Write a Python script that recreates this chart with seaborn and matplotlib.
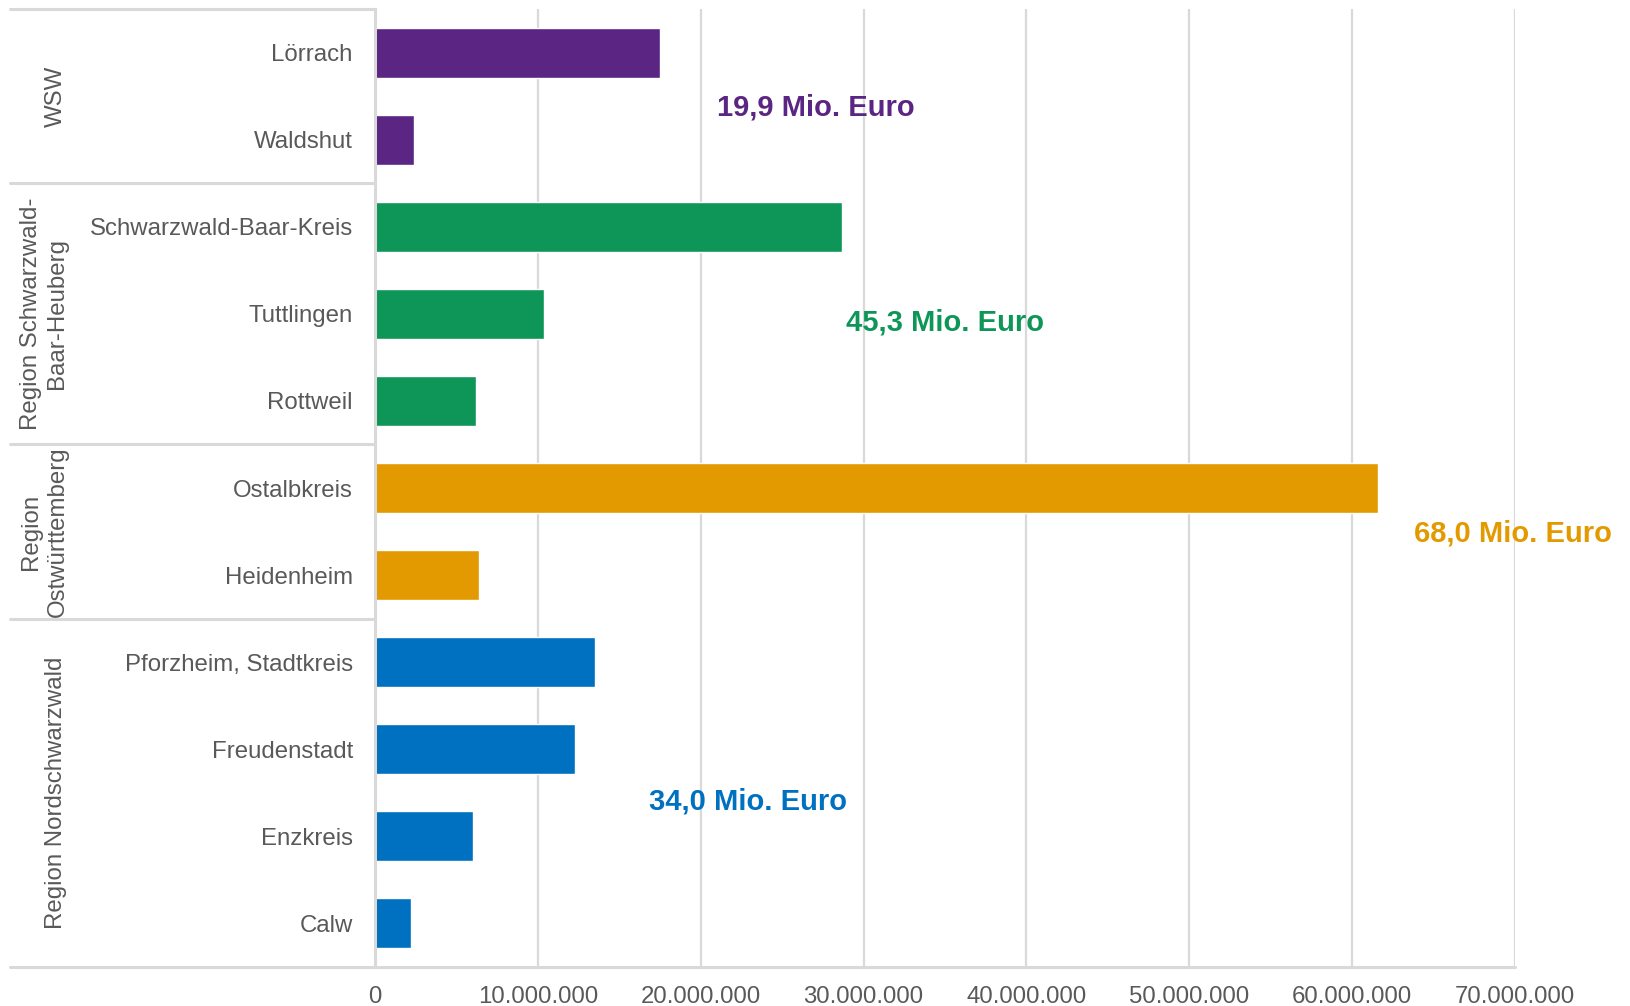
import numpy as np
import pandas as pd
import seaborn as sns
import matplotlib.pyplot as plt
import matplotlib.transforms as mtransforms

# data (Euro)
kreise = ['Lörrach', 'Waldshut',
          'Schwarzwald-Baar-Kreis', 'Tuttlingen', 'Rottweil',
          'Ostalbkreis', 'Heidenheim',
          'Pforzheim, Stadtkreis', 'Freudenstadt', 'Enzkreis', 'Calw']
regionen = ['WSW', 'WSW',
            'Region Schwarzwald-Baar-Heuberg', 'Region Schwarzwald-Baar-Heuberg', 'Region Schwarzwald-Baar-Heuberg',
            'Region Ostwürttemberg', 'Region Ostwürttemberg',
            'Region Nordschwarzwald', 'Region Nordschwarzwald', 'Region Nordschwarzwald', 'Region Nordschwarzwald']
betrag = [17_500_000, 2_400_000,
          28_700_000, 10_400_000, 6_200_000,
          61_600_000, 6_400_000,
          13_500_000, 12_300_000, 6_000_000, 2_200_000]

region_order = ['WSW', 'Region Schwarzwald-Baar-Heuberg', 'Region Ostwürttemberg', 'Region Nordschwarzwald']
region_labels = ['WSW', 'Region Schwarzwald-\nBaar-Heuberg', 'Region\nOstwürttemberg', 'Region Nordschwarzwald']
region_colors = ['#5B2583', '#0E9658', '#E39A00', '#0070C0']

df = pd.DataFrame({'Kreis': kreise, 'Region': regionen, 'Betrag': betrag})

sns.set_style('white')
plt.rcParams['font.family'] = ['Liberation Sans', 'DejaVu Sans']

grey = '#595959'
line_grey = '#D9D9D9'

fig = plt.figure(figsize=(16.3, 10.06), dpi=100)
ax = fig.add_axes([0.2301, 0.0391, 0.6993, 0.9516])

sns.barplot(data=df, y='Kreis', x='Betrag', hue='Region', hue_order=region_order,
            palette=region_colors, order=kreise, dodge=False, width=0.575,
            orient='h', legend=False, ax=ax, saturation=1)

ax.set_xlim(0, 70_000_000)
ax.set_ylim(len(kreise) - 0.5, -0.5)
ax.set_xticks(np.arange(0, 70_000_001, 10_000_000))
ax.set_xticklabels(['{:,.0f}'.format(v).replace(',', '.') for v in ax.get_xticks()])
ax.set_xlabel('')
ax.set_ylabel('')

ax.xaxis.grid(True, color=line_grey, linewidth=1.6)
ax.set_axisbelow(True)
for s in ['top', 'right', 'bottom']:
    ax.spines[s].set_visible(False)
ax.spines['left'].set_color(line_grey)
ax.spines['left'].set_linewidth(2.2)

ax.tick_params(axis='y', length=0, pad=16, labelsize=17.3, labelcolor=grey)
ax.tick_params(axis='x', length=0, pad=14, labelsize=17.3, labelcolor=grey)

# group separators in the category area and the long bottom axis line
trans = mtransforms.blended_transform_factory(ax.transAxes, ax.transData)
bounds = [-0.5, 1.5, 4.5, 6.5, len(kreise) - 0.5]
for b in bounds[:-1]:
    ax.plot([-0.32, 0], [b, b], transform=trans, color=line_grey, lw=2.2, clip_on=False)
ax.plot([-0.32, 1.0], [bounds[-1], bounds[-1]], transform=trans, color=line_grey, lw=2.2, clip_on=False)

# region names, rotated
ftrans = mtransforms.blended_transform_factory(fig.transFigure, ax.transData)
for i, lab in enumerate(region_labels):
    xc = 0.0272 if '\n' in lab else 0.0345
    yc = (bounds[i] + bounds[i + 1]) / 2
    ax.text(xc, yc, lab, transform=ftrans, rotation=90, ha='center', va='center',
            multialignment='center', fontsize=17.3, color=grey, linespacing=1.25)

# region totals
totals = df.groupby('Region', sort=False)['Betrag'].sum()
label_pos = [(21_000_000, 0.63), (28_900_000, 3.10), (63_800_000, 5.52), (16_800_000, 8.60)]
for reg, col, (lx, ly) in zip(region_order, region_colors, label_pos):
    txt = '{:.1f}'.format(totals[reg] / 1e6).replace('.', ',') + ' Mio. Euro'
    ax.text(lx, ly, txt, ha='left', va='center', fontsize=21, fontweight='bold',
            color=col, clip_on=False)

plt.savefig('out.png', dpi=100)
